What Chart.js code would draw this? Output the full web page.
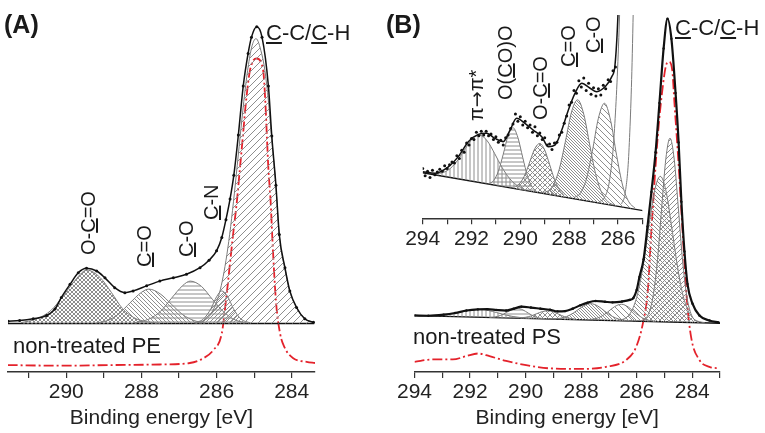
<!DOCTYPE html>
<html>
<head>
<meta charset="utf-8">
<title>C1s XPS - PE / PS</title>
<script src="https://cdn.jsdelivr.net/npm/chart.js@4.4.1/dist/chart.umd.min.js"></script>
<style>
  body { margin: 0; background: #fff; }
  #wrap { position: relative; width: 765px; height: 433px; overflow: hidden;
          font-family: "Liberation Sans", Arial, sans-serif; color: #1a1a1a; }
  canvas { position: absolute; }
  .lab { position: absolute; white-space: nowrap; line-height: 1; }
  .rot { transform-origin: 0 0; transform: rotate(-90deg); font-size: 20px; }
  .big { font-size: 22px; }
  .tag { font-size: 25px; font-weight: bold; }
  .arr { font-family: "DejaVu Sans", sans-serif; font-size: 19px; }
</style>
</head>
<body>
<div id="wrap">
  <canvas id="chartA" width="380" height="433" style="left:0;top:0"></canvas>
  <canvas id="chartB" width="385" height="433" style="left:380px;top:0"></canvas>
  <canvas id="chartInset" width="385" height="250" style="left:380px;top:0"></canvas>

  <div class="lab tag" style="left:4px;top:12px">(A)</div>
  <div class="lab tag" style="left:386px;top:12px">(B)</div>

  <!-- panel A peak labels -->
  <div class="lab big" style="left:266px;top:22px"><u>C</u>-C/<u>C</u>-H</div>
  <div class="lab rot" style="left:78px;top:255px">O-<u>C</u>=O</div>
  <div class="lab rot" style="left:134px;top:267px"><u>C</u>=O</div>
  <div class="lab rot" style="left:176px;top:257px"><u>C</u>-O</div>
  <div class="lab rot" style="left:201px;top:220px"><u>C</u>-N</div>
  <div class="lab big" style="left:13px;top:335px">non-treated PE</div>

  <!-- panel B peak labels -->
  <div class="lab big" style="left:675px;top:17px"><u>C</u>-C/<u>C</u>-H</div>
  <div class="lab rot" style="left:466px;top:121px">π<span class="arr">→</span>π*</div>
  <div class="lab rot" style="left:495px;top:100px">O(<u>C</u>O)O</div>
  <div class="lab rot" style="left:530px;top:120px">O-<u>C</u>=O</div>
  <div class="lab rot" style="left:558px;top:67px"><u>C</u>=O</div>
  <div class="lab rot" style="left:583px;top:53px"><u>C</u>-O</div>
  <div class="lab big" style="left:413px;top:326px">non-treated PS</div>
</div>

<script>
// === Panel A: plasma treated PE, C1s (binding energy [eV], intensity a.u.) ===
const peEnvelope = [[291.55, 0.8], [291.24, 1.0], [290.88, 1.6], [290.52, 2.7], [290.30, 4.9], [290.13, 8.8],
  [289.90, 13.2], [289.68, 17.1], [289.46, 18.6], [289.19, 17.7], [288.97, 15.4], [288.71, 12.1], [288.44, 10.4],
  [288.22, 11.0], [287.86, 12.7], [287.51, 14.3], [287.15, 15.4], [286.80, 16.6], [286.44, 18.8], [286.20, 21.3],
  [286.00, 24.5], [285.86, 29.0], [285.75, 35.0], [285.64, 42.0], [285.54, 50.0], [285.42, 63.5], [285.29, 80.0],
  [285.16, 91.0], [285.07, 96.5], [284.93, 100], [284.79, 96.5], [284.62, 80.0], [284.53, 63.2], [284.42, 46.6],
  [284.33, 30.0], [284.18, 18.8], [284.05, 11.0], [283.87, 5.4], [283.65, 1.6], [283.42, 0.4]];
const peOCdO = [[291.2, 0.3], [290.8, 1.5], [290.4, 4.5], [290.1, 9], [289.8, 14], [289.45, 18], [289.1, 15.5],
  [288.8, 10.5], [288.5, 5], [288.2, 2.0], [287.9, 0.7], [287.5, 0.1]];
const peCdO = [[289.2, 0.2], [288.9, 1], [288.6, 3.3], [288.3, 7], [288.0, 10.5], [287.8, 11.6], [287.5, 10],
  [287.2, 6.5], [286.9, 3], [286.6, 1], [286.3, 0.2]];
const peCO = [[288.2, 0.2], [287.8, 1.5], [287.5, 4], [287.2, 8.5], [286.9, 12.8], [286.7, 14.3], [286.4, 12.5],
  [286.1, 8], [285.8, 3.8], [285.5, 1.2], [285.2, 0.2]];
const peCN = [[286.6, 0.2], [286.35, 1.5], [286.15, 5], [286.0, 9], [285.86, 11], [285.7, 9], [285.55, 5],
  [285.35, 1.5], [285.1, 0.2]];
const peCC = [[286.55, 0.1], [286.35, 0.9], [286.15, 3.2], [285.95, 9.1], [285.85, 14.2], [285.75, 21.2],
  [285.65, 30.1], [285.55, 41], [285.45, 53.2], [285.35, 65.8], [285.25, 77.6], [285.15, 87.3], [285.05, 93.8],
  [284.95, 96], [284.8, 91], [284.71, 85], [284.62, 75], [284.53, 62], [284.42, 46], [284.33, 29.5],
  [284.18, 18.5], [284.05, 10.8], [283.87, 5.3], [283.65, 1.6], [283.42, 0.4]];
const peReference = [[291.56, -14.0], [290.17, -14.2], [288.84, -14.0], [287.51, -13.8], [286.71, -13.3],
  [286.35, -11.7], [286.09, -9.0], [285.86, -3.3], [285.75, 7.7], [285.56, 30], [285.46, 41], [285.38, 52],
  [285.30, 63], [285.22, 74.3], [285.11, 85.3], [284.93, 89.3], [284.76, 85.3], [284.70, 74.3], [284.66, 63],
  [284.62, 52], [284.56, 41], [284.52, 30], [284.42, 7.7], [284.31, -3.3], [284.18, -8.3], [283.96, -11.7],
  [283.60, -12.9], [283.38, -13.3]];
const peBackground = [[291.55, 0], [283.40, 0]];

// === Panel B: plasma treated PS, C1s (same units, inset is a zoom of the same data) ===
const psEnvelope = [[294.0, 2.72], [293.5, 2.63], [292.95, 2.99], [292.54, 3.55], [292.13, 4.38], [291.72, 4.78],
  [291.38, 4.84], [291.04, 4.56], [290.70, 4.38], [290.42, 5.02], [290.15, 5.67], [289.81, 5.39], [289.47, 5.02],
  [289.12, 4.65], [288.85, 4.10], [288.58, 4.19], [288.30, 5.02], [288.03, 6.13], [287.76, 7.05], [287.48, 7.60],
  [287.14, 7.33], [286.87, 7.14], [286.53, 7.41], [286.25, 7.97], [286.12, 8.6], [286.00, 11.3], [285.90, 15.7],
  [285.75, 21.7], [285.61, 32.7], [285.47, 44.3], [285.32, 57.7], [285.18, 74.3], [285.03, 92.7], [284.89, 102.7],
  [284.75, 96], [284.60, 77.7], [284.49, 61], [284.39, 41], [284.28, 24.3], [284.17, 13.3], [283.99, 6.7],
  [283.74, 2.7], [283.38, 1.0], [283.05, 0.4]];
// measured points in the magnified region (scatter of the raw counts)
const psRaw = [[294.0, 2.9], [293.9, 2.5], [293.8, 2.75], [293.7, 2.4], [293.6, 2.8], [293.5, 2.55], [293.4, 2.7],
  [293.3, 2.85], [293.2, 2.75], [293.1, 3.05], [293.0, 2.9], [292.9, 3.1], [292.8, 3.25], [292.7, 3.2],
  [292.6, 3.6], [292.5, 3.45], [292.4, 3.9], [292.3, 3.8], [292.2, 4.3], [292.1, 4.2], [292.0, 4.55],
  [291.9, 4.5], [291.8, 4.9], [291.7, 4.7], [291.6, 4.95], [291.5, 4.75], [291.4, 4.95], [291.3, 4.7],
  [291.2, 4.8], [291.1, 4.5], [291.0, 4.65], [290.9, 4.35], [290.8, 4.45], [290.7, 4.2], [290.6, 4.6],
  [290.5, 4.75], [290.4, 5.1], [290.3, 5.35], [290.2, 5.9], [290.1, 5.5], [290.0, 5.75], [289.9, 5.3],
  [289.8, 5.5], [289.7, 5.15], [289.6, 5.3], [289.5, 4.9], [289.4, 5.2], [289.3, 4.7], [289.2, 4.85],
  [289.1, 4.5], [289.0, 4.6], [288.9, 4.2], [288.8, 4.25], [288.7, 3.95], [288.6, 4.3], [288.5, 4.35],
  [288.4, 4.75], [288.3, 4.9], [288.2, 5.4], [288.1, 5.8], [288.0, 6.4], [287.9, 6.55], [287.8, 7.2],
  [287.7, 7.05], [287.6, 7.75], [287.5, 7.4], [287.4, 7.9], [287.3, 7.2], [287.2, 7.6], [287.1, 7.0],
  [287.0, 7.35], [286.9, 6.9], [286.8, 7.3], [286.7, 6.95], [286.6, 7.5], [286.5, 7.3], [286.4, 7.8],
  [286.3, 7.7], [286.2, 8.3], [286.1, 8.5]];
const psBackground = [[294.0, 2.66], [283.0, 0.11]];
const psPiPi = [[293.45, 2.61], [293.15, 2.68], [292.85, 2.92], [292.55, 3.38], [292.25, 4.00], [291.95, 4.55],
  [291.65, 4.73], [291.35, 4.41], [291.05, 3.72], [290.75, 2.96], [290.45, 2.36], [290.15, 1.98], [289.85, 1.77]];
const psOCOO = [[291.3, 2.05], [291.1, 2.22], [290.9, 2.74], [290.7, 3.68], [290.5, 4.71], [290.3, 5.15],
  [290.1, 4.61], [289.9, 3.50], [289.7, 2.46], [289.5, 1.85], [289.3, 1.59]];
const psOCdO = [[290.2, 1.90], [290.0, 2.11], [289.8, 2.58], [289.6, 3.31], [289.4, 4.01], [289.2, 4.28],
  [289.0, 3.92], [288.8, 3.12], [288.6, 2.30], [288.4, 1.74], [288.2, 1.44]];
const psCdO = [[289.15, 1.57], [288.9, 1.63], [288.65, 1.98], [288.4, 2.87], [288.15, 4.40], [287.9, 6.02],
  [287.65, 6.69], [287.4, 5.90], [287.15, 4.17], [286.9, 2.52], [286.65, 1.52], [286.4, 1.05], [286.15, 0.87]];
const psCO = [[287.8, 1.29], [287.55, 1.51], [287.3, 2.27], [287.05, 3.83], [286.8, 5.67], [286.55, 6.50],
  [286.3, 5.55], [286.05, 3.60], [285.8, 1.93], [285.55, 1.05], [285.3, 0.71]];
const psCC1 = [[286.75, 1.06], [286.55, 1.29], [286.35, 2.18], [286.15, 4.84], [285.95, 10.6], [285.75, 20.5],
  [285.55, 33.5], [285.35, 45.0], [285.15, 49.6], [284.95, 44.9], [284.75, 33.3], [284.55, 20.3], [284.35, 10.2],
  [284.15, 4.4], [283.95, 1.6], [283.75, 0.64], [283.55, 0.32]];
const psCC2 = [[285.85, 0.94], [285.7, 1.55], [285.55, 3.8], [285.4, 9.8], [285.25, 21.6], [285.1, 39.0],
  [284.95, 55.5], [284.8, 62.5], [284.65, 55.4], [284.5, 38.9], [284.35, 21.4], [284.2, 9.5], [284.05, 3.45],
  [283.9, 1.13], [283.75, 0.45]];
const psReference = [[294.0, -12.9], [293.34, -12.1], [292.62, -12.1], [292.14, -11.0], [291.72, -10.1],
  [291.30, -11.0], [290.70, -12.6], [289.98, -14.0], [289.14, -15.1], [287.94, -15.3], [287.10, -14.6],
  [286.38, -12.3], [286.02, -7.9], [285.78, -0.1], [285.60, 11], [285.48, 29.9], [285.24, 63.2], [285.06, 79.9],
  [284.94, 87.1], [284.84, 88.2], [284.72, 85.4], [284.64, 74.3], [284.48, 52.1], [284.34, 29.9], [284.19, 7.7],
  [284.04, -4.6], [283.74, -12.3], [283.38, -14.6], [283.02, -15.1]];

// --- helpers ---
const FONT = 'Liberation Sans';
const pts = arr => arr.map(p => ({ x: p[0], y: p[1] }));

// small tiled canvas -> hatch pattern (/, \, x, h, v)
function hatch(ctx, kind, gap, color) {
  const c = document.createElement('canvas');
  c.width = gap; c.height = gap;
  const g = c.getContext('2d');
  g.strokeStyle = color || '#8e8e8e';
  g.lineWidth = 1;
  g.beginPath();
  if (kind === 'h') { g.moveTo(0, gap / 2); g.lineTo(gap, gap / 2); }
  if (kind === 'v') { g.moveTo(gap / 2, 0); g.lineTo(gap / 2, gap); }
  if (kind === '/' || kind === 'x') {
    g.moveTo(0, gap); g.lineTo(gap, 0);
    g.moveTo(-1, 1); g.lineTo(1, -1);
    g.moveTo(gap - 1, gap + 1); g.lineTo(gap + 1, gap - 1);
  }
  if (kind === '\\' || kind === 'x') {
    g.moveTo(0, 0); g.lineTo(gap, gap);
    g.moveTo(-1, gap - 1); g.lineTo(1, gap + 1);
    g.moveTo(gap - 1, -1); g.lineTo(gap + 1, 1);
  }
  g.stroke();
  return ctx.createPattern(c, 'repeat');
}

function xAxis(min, max, height, withTitle) {
  return {
    type: 'linear', reverse: true, min: min, max: max,
    afterFit: s => { s.height = height; },
    ticks: {
      stepSize: 1, includeBounds: false, autoSkip: false, maxRotation: 0, minRotation: 0,
      padding: 2, color: '#222', font: { family: FONT, size: 21 },
      callback: v => (Math.round(v) % 2 === 0 ? String(Math.round(v)) : '')
    },
    grid: { drawOnChartArea: false, drawTicks: true, tickLength: 6, color: '#333', lineWidth: 1.2 },
    border: { display: true, color: '#333', width: 1.5 },
    title: {
      display: withTitle, text: 'Binding energy [eV]', color: '#222',
      font: { family: FONT, size: 21 }, padding: { top: 0, bottom: 2 }
    }
  };
}

function options(pad, x, ymin, ymax) {
  return {
    responsive: false, animation: false,
    layout: { padding: pad },
    plugins: { legend: { display: false }, tooltip: { enabled: false } },
    scales: { x: x, y: { display: false, min: ymin, max: ymax } }
  };
}

const envelope = (arr, w, r) => ({
  data: pts(arr), borderColor: '#111', borderWidth: w, pointRadius: r,
  pointBackgroundColor: '#111', pointBorderWidth: 0, fill: false, cubicInterpolationMode: 'monotone'
});
const dots = arr => ({
  data: pts(arr), showLine: false, pointRadius: 1.5, pointBackgroundColor: '#111',
  pointBorderWidth: 0, fill: false
});
const component = (arr, pattern, target) => ({
  data: pts(arr), borderColor: '#7a7a7a', borderWidth: 1, pointRadius: 0,
  backgroundColor: pattern, fill: target, cubicInterpolationMode: 'monotone'
});
const baseline = arr => ({
  data: pts(arr), borderColor: '#111', borderWidth: 1.4, pointRadius: 0, fill: false
});
const reference = arr => ({
  data: pts(arr), borderColor: '#e4222b', borderWidth: 1.8, borderDash: [10, 3, 2, 3],
  pointRadius: 0, fill: false, cubicInterpolationMode: 'monotone'
});

// --- Panel A ---
const ctxA = document.getElementById('chartA').getContext('2d');
new Chart(ctxA, {
  type: 'line',
  data: {
    datasets: [
      envelope(peEnvelope, 1.5, 1.5),
      component(peCC, hatch(ctxA, '/', 7), { value: 0 }),
      component(peCN, hatch(ctxA, '/', 4), { value: 0 }),
      component(peCO, hatch(ctxA, 'h', 4), { value: 0 }),
      component(peCdO, hatch(ctxA, '\\', 4), { value: 0 }),
      component(peOCdO, hatch(ctxA, 'x', 4), { value: 0 }),
      baseline(peBackground),
      reference(peReference)
    ]
  },
  options: options({ left: 8, right: 65, top: 0, bottom: 0 },
    xAxis(283.38, 291.55, 61, true), -16.33, 107.67)
});

// --- Panel B: both plots share the same arrays; the background line is dataset 9 ---
function psDatasets(ctx, inset) {
  const bg = 9;
  return [
    inset ? dots(psRaw) : dots([]),
    envelope(psEnvelope, inset ? 1.5 : 2.2, inset ? 0 : 1.2),
    component(psCC2, inset ? 'transparent' : hatch(ctx, '/', 5), inset ? false : bg),
    component(psCC1, inset ? 'transparent' : hatch(ctx, '\\', 4), inset ? false : bg),
    component(psCO, hatch(ctx, '\\', 6), bg),
    component(psCdO, hatch(ctx, '\\', 3), bg),
    component(psOCdO, hatch(ctx, 'x', 5), bg),
    component(psOCOO, hatch(ctx, 'h', 4), bg),
    component(psPiPi, hatch(ctx, 'v', 4), bg),
    baseline(psBackground),
    inset ? reference([]) : reference(psReference)
  ];
}

const ctxB = document.getElementById('chartB').getContext('2d');
new Chart(ctxB, {
  type: 'line',
  data: { datasets: psDatasets(ctxB, false) },
  options: options({ left: 34.5, right: 45, top: 0, bottom: 0 },
    xAxis(283, 294, 61, true), -16.33, 107.67)
});

// --- Panel B inset: magnified 285-294 eV region ---
const ctxI = document.getElementById('chartInset').getContext('2d');
new Chart(ctxI, {
  type: 'line',
  data: { datasets: psDatasets(ctxI, true) },
  options: options({ left: 42.7, right: 122.7, top: 15, bottom: 0 },
    xAxis(285, 294, 31.7, false), 0.144, 11.376)
});
</script>
</body>
</html>
